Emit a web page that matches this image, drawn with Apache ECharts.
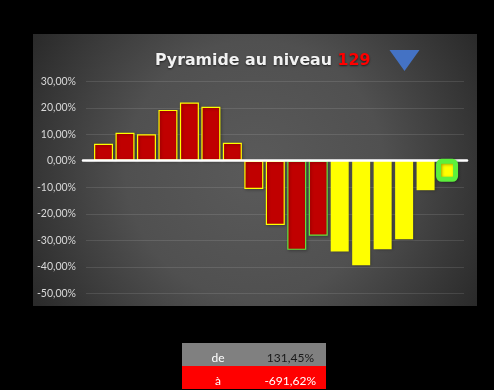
<!DOCTYPE html>
<html><head><meta charset="utf-8">
<style>html,body{margin:0;padding:0;background:#000;}#c{width:494px;height:390px;}</style>
<script src="https://cdn.jsdelivr.net/npm/echarts@6/dist/echarts.min.js"></script>
</head><body><div id="c"></div>
<script>
const categories = ['1','2','3','4','5','6','7','8','9','10','11','12','13','14','15','16','17'];
const redYellowValues = [6.4,10.6,10.0,19.2,22.0,20.4,6.8,-10.6,-24.2];
const redGreenValues = [-33.6,-28.3];
const yellowValues = [-34.2,-39.4,-33.4,-29.6,-11.1];
const currentValue = [-8.7];
const titleParts = ['Pyramide au niveau ','129'];
const tableLabels = ['de','à'];
const tableValues = ['131,45%','-691,62%'];
const FONT='Lato';
const pad=(n)=>Array(n).fill(null);
const shadow={shadowColor:'rgba(0,0,0,0.35)',shadowBlur:3,shadowOffsetY:1,shadowOffsetX:1};
function item(v,border,bw,fill){return {value:v,itemStyle:{color:fill,borderColor:border,borderWidth:bw,...shadow}};}
const s1=redYellowValues.map(v=>item(v,'#ffff00',1.2,'#c00000'));
const s2=pad(9).concat(redGreenValues.map(v=>item(v,'#62e83e',1.2,'#c00000')));
const s3=pad(11).concat(yellowValues.map(v=>item(v,'#ffff00',0,'#ffff00')));
const s4=pad(16).concat(currentValue);
const chart=echarts.init(document.getElementById('c'));
const yBase={type:'value',min:-50,max:30,interval:10};
const cell=(x,y,w,h,c)=>({type:'rect',shape:{x,y,width:w,height:h},style:{fill:c},z:1});
const txt=(x,y,t,c,a)=>({type:'text',x,y,style:{text:t,fill:c,font:'12px '+FONT,textAlign:a,textVerticalAlign:'middle'},z:2});
const hiddenX=(g)=>({gridIndex:g,type:'category',data:categories,show:false});
chart.setOption({
 animation:false,backgroundColor:'#000',
 graphic:[
  {type:'rect',shape:{x:33,y:34,width:444,height:272},z:-10,style:{fill:new echarts.graphic.RadialGradient(0.5,0.5,0.95,[{offset:0,color:'#5a5a5a'},{offset:0.5,color:'#505050'},{offset:1,color:'#2a2a2a'}])}},
  {type:'polygon',shape:{points:[[389.5,50],[419.5,50],[404.5,71]]},style:{fill:'#4472c4'},z:3},
  cell(182,343,144,23,'#808080'),cell(182,366,144,23,'#ff0000'),
  txt(218,358.5,tableLabels[0],'#ffffff','center'),
  txt(314,358.5,tableValues[0],'#1a1a1a','right'),
  txt(218,381,tableLabels[1],'#ffffff','center'),
  txt(316,381,tableValues[1],'#ffffff','right')
 ],
 title:{left:155,top:53,padding:0,text:'{a|'+titleParts[0]+'}{b|'+titleParts[1]+'}',textStyle:{rich:{
   a:{fontFamily:'DejaVu Sans',fontWeight:'bold',fontSize:15.8,color:'#f2f2f2',textShadowColor:'rgba(0,0,0,0.6)',textShadowBlur:2,textShadowOffsetY:1},
   b:{fontFamily:'DejaVu Sans',fontWeight:'bold',fontSize:15.8,color:'#ff0000',textShadowColor:'rgba(0,0,0,0.6)',textShadowBlur:2,textShadowOffsetY:1}}}},
 grid:[
  {left:86,top:81.3,width:378,height:212},
  {left:92.8,top:81.3,width:365,height:212},
  {left:83,top:80.3,width:384,height:212},
  {left:92.8,top:79.3,width:365,height:212}
 ],
 xAxis:[
  hiddenX(0),
  hiddenX(1),
  {gridIndex:2,type:'category',data:categories,z:5,axisLine:{show:true,onZero:true,lineStyle:{color:'#ffffff',width:2.5}},axisTick:{show:false},axisLabel:{show:false}},
  hiddenX(1),
  hiddenX(3)
 ],
 yAxis:[
  {...yBase,gridIndex:0,axisLine:{show:false},axisTick:{show:false},
   splitLine:{lineStyle:{color:'rgba(255,255,255,0.11)',width:1}},
   axisLabel:{margin:10,color:'#d9d9d9',fontFamily:FONT,fontSize:10.5,formatter:v=>v.toFixed(2).replace('.',',')+'%'}},
  {...yBase,gridIndex:1,show:false,splitLine:{show:false}},
  {...yBase,gridIndex:2,show:false,splitLine:{show:false}},
  {...yBase,gridIndex:3,show:false,splitLine:{show:false}}
 ],
 series:[
  {type:'bar',xAxisIndex:1,yAxisIndex:1,barWidth:19,stack:'pyramide',data:s1,z:2},
  {type:'bar',xAxisIndex:1,yAxisIndex:1,barWidth:19,stack:'pyramide',data:s2,z:2},
  {type:'bar',xAxisIndex:3,yAxisIndex:1,barWidth:18,data:s3,z:2},
  {type:'bar',xAxisIndex:4,yAxisIndex:3,barWidth:22,data:s4,z:10,
   itemStyle:{color:'#ffff00',borderColor:'#5cf03c',borderWidth:5,borderRadius:3,...shadow}}
 ]
});
</script></body></html>
